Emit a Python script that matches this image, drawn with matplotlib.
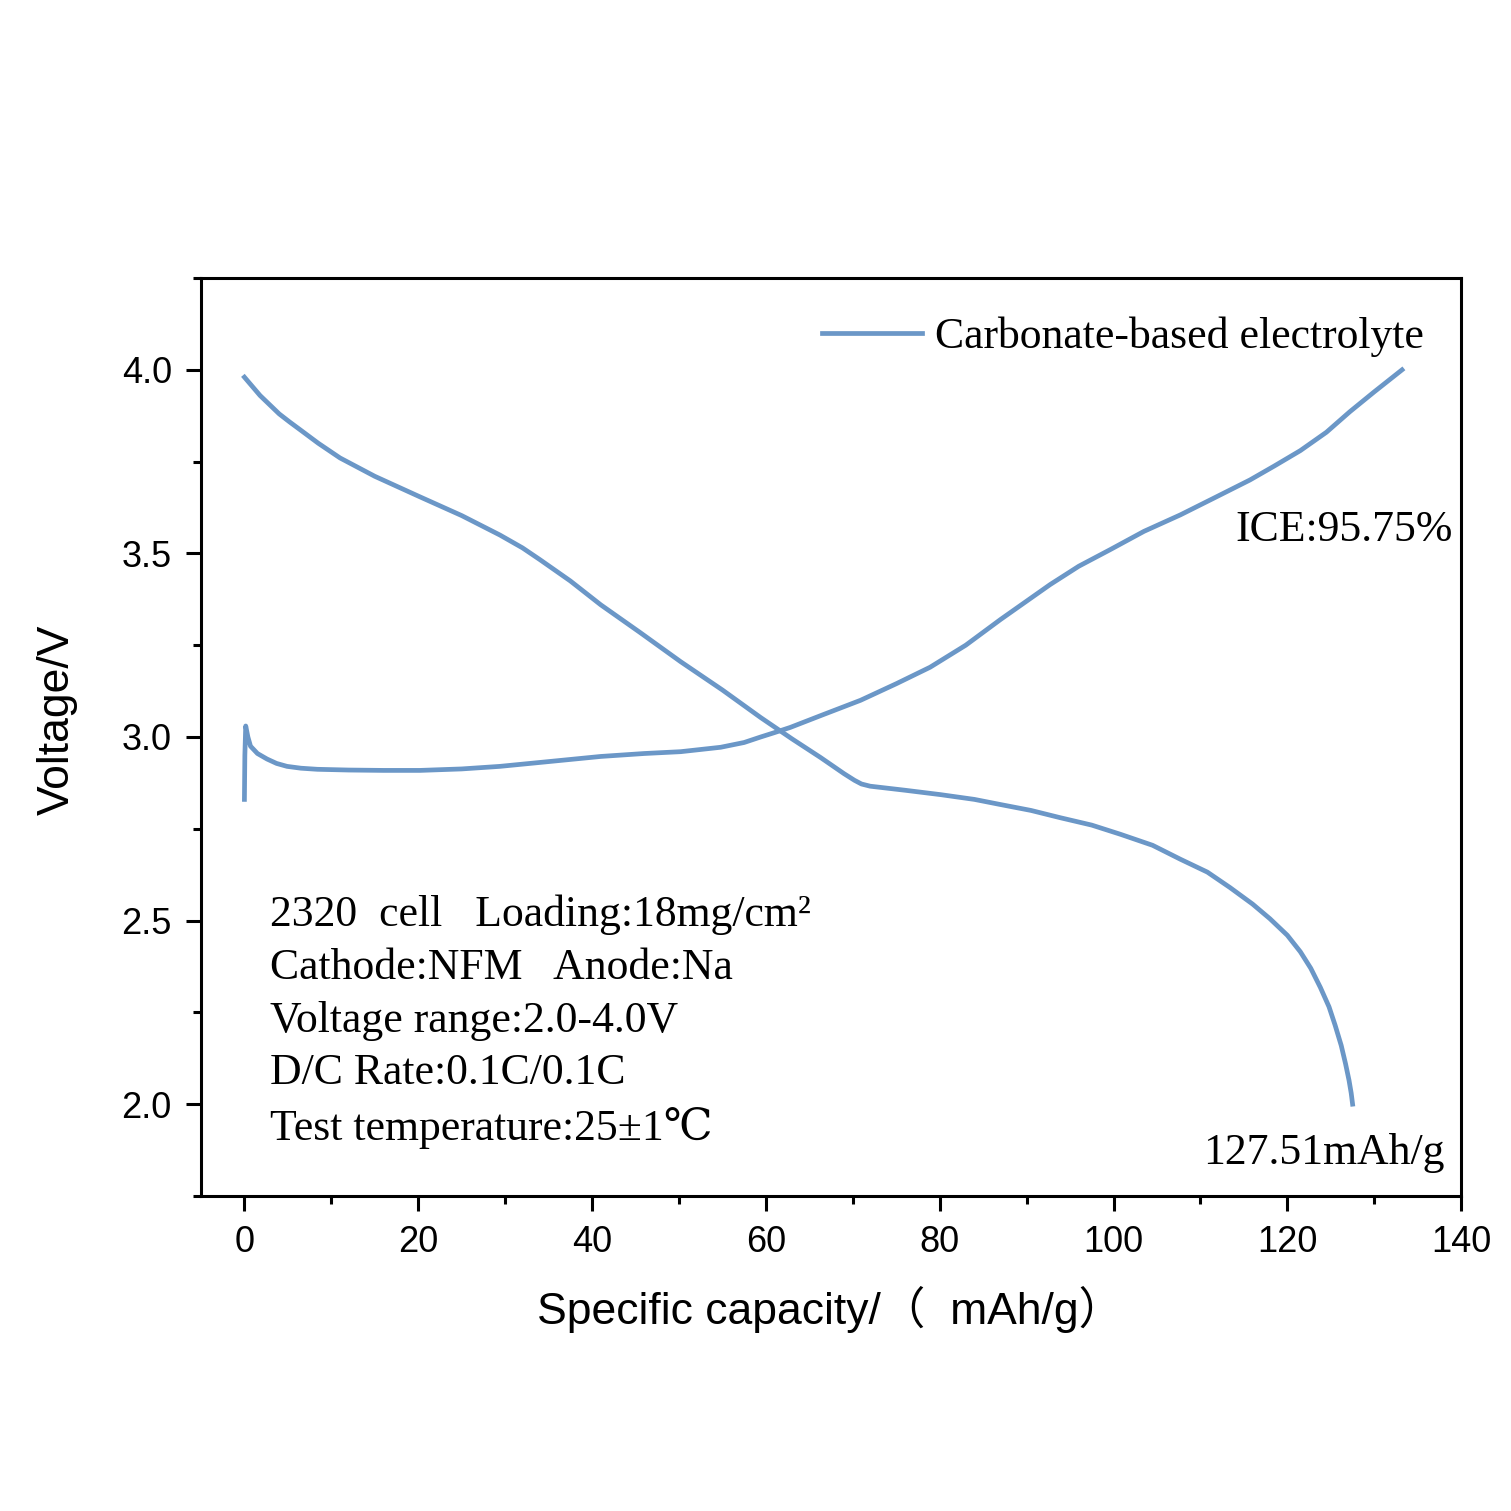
#!/usr/bin/env python3
"""Charge/discharge curve of a 2320 cell, carbonate-based electrolyte"""

import matplotlib
matplotlib.use("Agg")
import matplotlib.pyplot as plt
from matplotlib.ticker import MultipleLocator

# charge curve
charge_x = [0.0, 0.05, 0.15, 0.4, 0.7, 1.5, 2.6, 3.7, 4.9, 6.5, 8.4, 12, 16,
            20.2, 25, 29.4, 35, 41, 46, 50.2, 54.8, 57.5, 59.4, 61, 62.8, 66.5,
            70.9, 75, 78.9, 83, 87, 90, 92.7, 96, 99.6, 103.5, 107.7, 111.5,
            115.7, 118.5, 121.5, 124.5, 127.2, 130, 133.2]
charge_v = [2.83, 2.95, 3.03, 3.0, 2.975, 2.955, 2.94, 2.928, 2.92, 2.915,
            2.912, 2.91, 2.909, 2.909, 2.913, 2.92, 2.933, 2.947, 2.955, 2.96,
            2.972, 2.985, 3.0, 3.012, 3.026, 3.06, 3.10, 3.145, 3.19, 3.25,
            3.32, 3.37, 3.415, 3.465, 3.51, 3.56, 3.605, 3.65, 3.70, 3.738,
            3.78, 3.83, 3.886, 3.94, 4.0]

# discharge curve
discharge_x = [0.0, 0.9, 1.8, 2.9, 4.0, 5.2, 6.4, 8.5, 11, 15, 20.2, 25, 29.4,
               32, 34, 37.5, 41, 45.5, 50.2, 55, 59.4, 63, 66.3, 69, 70.2, 71,
               72, 76, 80.1, 84, 87, 90.5, 93.9, 97.5, 100.8, 104.5, 107.7,
               110.8, 113.4, 116, 118, 120, 121.5, 122.7, 123.8, 124.8, 125.5,
               126.2, 126.7, 127.1, 127.35, 127.51]
discharge_v = [3.98, 3.955, 3.93, 3.905, 3.88, 3.858, 3.837, 3.80, 3.76, 3.71,
               3.654, 3.603, 3.55, 3.515, 3.483, 3.425, 3.36, 3.285, 3.205,
               3.128, 3.053, 2.995, 2.944, 2.90, 2.882, 2.872, 2.866, 2.855,
               2.843, 2.83, 2.816, 2.80, 2.78, 2.76, 2.735, 2.705, 2.667, 2.632,
               2.59, 2.545, 2.505, 2.46, 2.415, 2.37, 2.318, 2.265, 2.215,
               2.16, 2.11, 2.065, 2.03, 2.0]

capacity_label = "127.51mAh/g"
ice_label = "ICE:95.75%"
info_lines = [
    "2320  cell   Loading:18mg/cm²",
    "Cathode:NFM   Anode:Na",
    "Voltage range:2.0-4.0V",
    "D/C Rate:0.1C/0.1C",
    "Test temperature:25±1℃",
]

color = "#6b97c7"
serif = ["Liberation Serif", "DejaVu Serif"]
sans = ["Liberation Sans", "Noto Sans CJK SC", "DejaVu Sans"]


def plot(ax):
    ax.plot(charge_x, charge_v, color=color, lw=3.4,
            label="Carbonate-based electrolyte")
    ax.plot(discharge_x, discharge_v, color=color, lw=3.4)

    ax.set_xlim(-5, 140)
    ax.set_ylim(1.75, 4.25)
    ax.xaxis.set_major_locator(MultipleLocator(20))
    ax.xaxis.set_minor_locator(MultipleLocator(10))
    ax.yaxis.set_major_locator(MultipleLocator(0.5))
    ax.yaxis.set_minor_locator(MultipleLocator(0.25))
    ax.yaxis.set_major_formatter(plt.FormatStrFormatter("%.1f"))

    ax.tick_params(which="major", direction="out", length=11, width=2.2,
                   labelsize=26, pad=10)
    ax.tick_params(which="minor", direction="out", length=6, width=2.2)
    for lab in ax.get_xticklabels() + ax.get_yticklabels():
        lab.set_fontfamily(sans)
    for sp in ax.spines.values():
        sp.set_linewidth(2.2)

    ax.set_xlabel("Specific capacity/（  mAh/g）", fontsize=32, family=sans)
    ax.set_ylabel("Voltage/V", fontsize=32, family=sans)
    ax.xaxis.set_label_coords(0.499, -0.098)
    ax.yaxis.set_label_coords(-0.098, 0.519)

    leg = ax.legend(loc="upper right", bbox_to_anchor=(0.995, 0.991),
                    frameon=False, handlelength=2.3, handletextpad=0.3,
                    borderaxespad=0.3, prop={"family": serif, "size": 31.5})
    leg.get_lines()[0].set_linewidth(3.4)

    ax.text(0.993, 0.713, ice_label, transform=ax.transAxes, ha="right",
            va="baseline", fontsize=31.5, family=serif)
    ax.text(0.987, 0.035, capacity_label, transform=ax.transAxes, ha="right",
            va="baseline", fontsize=31.5, family=serif)
    ax.text(0.0548, 0.061, "\n".join(info_lines), transform=ax.transAxes,
            ha="left", va="baseline", fontsize=31.5, family=serif,
            linespacing=1.41)


def main():
    fig = plt.figure(figsize=(15.11, 15.11), dpi=100)
    ax = fig.add_axes([0.133, 0.2085, 0.834, 0.6075])
    plot(ax)
    fig.savefig("out.png", dpi=100)


if __name__ == "__main__":
    main()
